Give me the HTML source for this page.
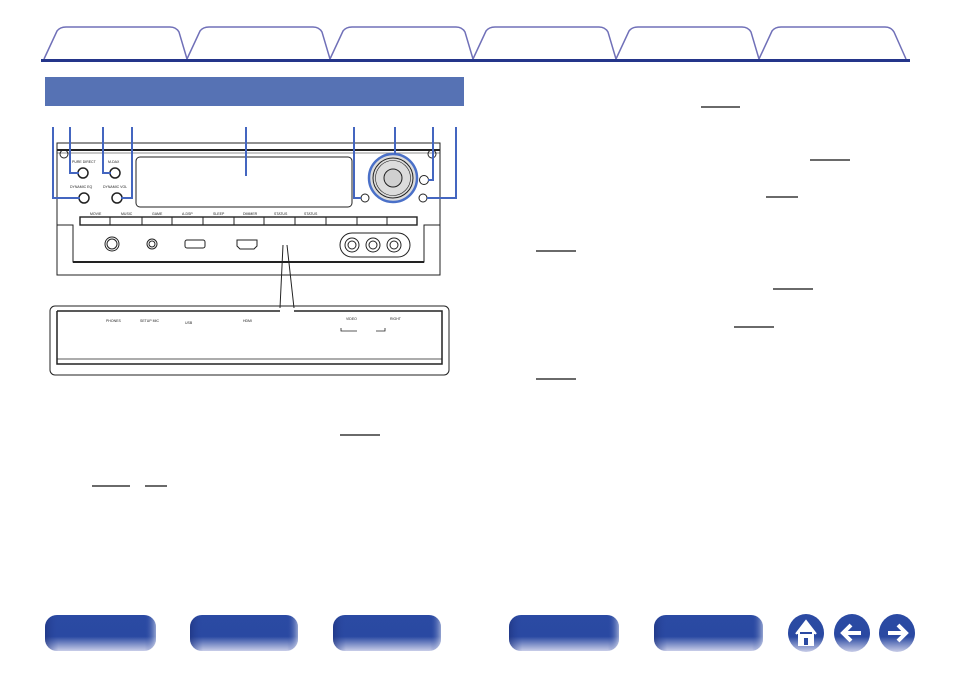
<!DOCTYPE html>
<html><head><meta charset="utf-8"><style>
html,body{margin:0;padding:0;background:#fff;}
body{width:954px;height:673px;position:relative;overflow:hidden;font-family:"Liberation Sans",sans-serif;}
</style></head><body>
<svg width="954" height="673" viewBox="0 0 954 673" xmlns="http://www.w3.org/2000/svg" style="position:absolute;left:0;top:0">
<defs>
<linearGradient id="bg" x1="0" y1="0" x2="0" y2="1">
<stop offset="0" stop-color="#2b4aa3"/><stop offset="0.6" stop-color="#2a49a2"/><stop offset="1" stop-color="#c9cde8"/>
</linearGradient>
<linearGradient id="bh" x1="0" y1="0" x2="1" y2="0">
<stop offset="0" stop-color="#1c2f78" stop-opacity="0.6"/><stop offset="0.12" stop-color="#2a49a2" stop-opacity="0"/><stop offset="0.9" stop-color="#2a49a2" stop-opacity="0"/><stop offset="1" stop-color="#ffffff" stop-opacity="0.5"/>
</linearGradient>
</defs>
<g fill="none" stroke="#7070b8" stroke-width="1.5">
<path d="M44 59 L57 31 Q60 27 66 27 L170 27 Q176 27 179 32 L187 59 L200 31 Q203 27 209 27 L313 27 Q319 27 322 32 L330 59 L343 31 Q346 27 352 27 L456 27 Q462 27 465 32 L473 59 L486 31 Q489 27 495 27 L599 27 Q605 27 608 32 L616 59 L629 31 Q632 27 638 27 L742 27 Q748 27 751 32 L759 59 L772 31 Q775 27 781 27 L885 27 Q891 27 894 32 L906 59"/>
</g>
<rect x="41" y="59" width="869" height="3" fill="#24358a"/>
<rect x="45" y="77" width="419" height="29" fill="#5672b4"/>

<g fill="none" stroke="#222" stroke-width="1">
<rect x="57" y="143" width="383" height="132"/>
<line x1="57" y1="150" x2="440" y2="150" stroke-width="2"/>
<line x1="57" y1="153" x2="440" y2="153" stroke-width="0.6"/>
<rect x="136" y="157" width="216" height="50" rx="4"/>
<circle cx="64" cy="154" r="4"/><circle cx="432" cy="154" r="4"/>
<rect x="80" y="217" width="337" height="8" stroke-width="1.4"/>
<path d="M110 217v8M142 217v8M172 217v8M203 217v8M234 217v8M264 217v8M295 217v8M326 217v8M357 217v8M387 217v8"/>
<path d="M57 225 L73 225 L73 262 L424 262 L424 225 L440 225"/>
<line x1="73" y1="262" x2="424" y2="262" stroke-width="2"/>
<circle cx="112" cy="244" r="7"/><circle cx="112" cy="244" r="5"/>
<circle cx="152" cy="244" r="5"/><circle cx="152" cy="244" r="3"/>
<rect x="185" y="240" width="20" height="8" rx="2"/>
<path d="M237 240 h20 v6 l-3 3 h-14 l-3 -3z"/>
<rect x="340" y="233" width="70" height="24" rx="12"/>
<circle cx="352" cy="245" r="7"/><circle cx="352" cy="245" r="4"/>
<circle cx="373" cy="245" r="7"/><circle cx="373" cy="245" r="4"/>
<circle cx="394" cy="245" r="7"/><circle cx="394" cy="245" r="4"/>
<circle cx="83" cy="173" r="5" stroke-width="1.5"/><circle cx="115" cy="173" r="5" stroke-width="1.5"/>
<circle cx="84" cy="198" r="5" stroke-width="1.5"/><circle cx="117" cy="198" r="5" stroke-width="1.5"/>
<circle cx="365" cy="198" r="4"/><circle cx="424" cy="180" r="4.5"/><circle cx="423" cy="198" r="4"/>
</g>
<circle cx="393" cy="178" r="24" fill="#dcdcdc" stroke="#4a70c8" stroke-width="2.5"/>
<circle cx="393" cy="178" r="20" fill="none" stroke="#222" stroke-width="1"/>
<circle cx="393" cy="178" r="17.5" fill="none" stroke="#222" stroke-width="0.6"/>
<circle cx="393" cy="178" r="9" fill="#d0d0d0" stroke="#222" stroke-width="1"/>
<g font-size="3.5" fill="#222" font-family="Liberation Sans">
<text x="72" y="163">PURE DIRECT</text><text x="108" y="163">M-DAX</text>
<text x="70" y="188">DYNAMIC EQ</text><text x="103" y="188">DYNAMIC VOL</text>
<text x="90" y="215">MOVIE</text><text x="121" y="215">MUSIC</text><text x="152" y="215">GAME</text><text x="182" y="215">A-DSP</text><text x="213" y="215">SLEEP</text><text x="243" y="215">DIMMER</text><text x="274" y="215">STATUS</text><text x="304" y="215">STATUS</text>
<text x="106" y="322">PHONES</text><text x="140" y="322">SETUP MIC</text><text x="185" y="324">USB</text><text x="243" y="322">HDMI</text><text x="346" y="320">VIDEO</text><text x="390" y="320">RIGHT</text>
</g>
<g fill="none" stroke="#4466c0" stroke-width="2">
<path d="M53 127 V198 H80"/><path d="M70 127 V173 H79"/><path d="M103 127 V173 H111"/><path d="M132 127 V198 H121"/>
<path d="M246 127 V176"/><path d="M354 127 V198 H361"/><path d="M395 127 V154"/><path d="M433 127 V180 H428"/><path d="M456 127 V198 H427"/>
</g>
<path d="M283 245 L280 308 M287 245 L294 308" stroke="#222" stroke-width="1" fill="none"/>
<rect x="50" y="306" width="399" height="69" rx="5" fill="none" stroke="#222" stroke-width="1"/>
<path d="M57 311 V364 H442 V311 H294 M280 311 H57" fill="none" stroke="#222" stroke-width="1.5"/>
<line x1="57" y1="359" x2="442" y2="359" stroke="#222" stroke-width="0.8"/>
<path d="M341 328 V331 H357 M376 331 H385 V328" stroke="#222" stroke-width="0.8" fill="none"/>
<g stroke="#111" stroke-width="1.3">
<line x1="340" y1="435" x2="380" y2="435"/><line x1="92" y1="486" x2="130" y2="486"/><line x1="145" y1="486" x2="167" y2="486"/>
<line x1="701" y1="107" x2="740" y2="107"/><line x1="810" y1="160" x2="850" y2="160"/><line x1="766" y1="197" x2="798" y2="197"/>
<line x1="536" y1="251" x2="576" y2="251"/><line x1="773" y1="289" x2="813" y2="289"/><line x1="734" y1="327" x2="774" y2="327"/><line x1="536" y1="379" x2="576" y2="379"/>
</g>
<g>
<rect x="45" y="615" width="111" height="36" rx="12" fill="url(#bg)"/><rect x="45" y="615" width="111" height="36" rx="12" fill="url(#bh)"/>
<rect x="190" y="615" width="108" height="36" rx="12" fill="url(#bg)"/><rect x="190" y="615" width="108" height="36" rx="12" fill="url(#bh)"/>
<rect x="333" y="615" width="108" height="36" rx="12" fill="url(#bg)"/><rect x="333" y="615" width="108" height="36" rx="12" fill="url(#bh)"/>
<rect x="509" y="615" width="110" height="36" rx="12" fill="url(#bg)"/><rect x="509" y="615" width="110" height="36" rx="12" fill="url(#bh)"/>
<rect x="654" y="615" width="109" height="36" rx="12" fill="url(#bg)"/><rect x="654" y="615" width="109" height="36" rx="12" fill="url(#bh)"/>
<ellipse cx="806" cy="633" rx="18" ry="19" fill="url(#bg)"/>
<ellipse cx="852" cy="633" rx="18" ry="19" fill="url(#bg)"/>
<ellipse cx="897" cy="633" rx="18" ry="19" fill="url(#bg)"/>
<path d="M796 634 L806 621 L816 634 M799 632 V645 H813 V632" fill="#fff" stroke="#fff" stroke-width="2"/>
<rect x="804" y="638" width="4" height="7" fill="#2a49a2"/>
<path d="M861 633 H845 M851 625 L843 633 L851 641" fill="none" stroke="#fff" stroke-width="4"/>
<path d="M888 633 H904 M898 625 L906 633 L898 641" fill="none" stroke="#fff" stroke-width="4"/>
</g>
</svg>
</body></html>
